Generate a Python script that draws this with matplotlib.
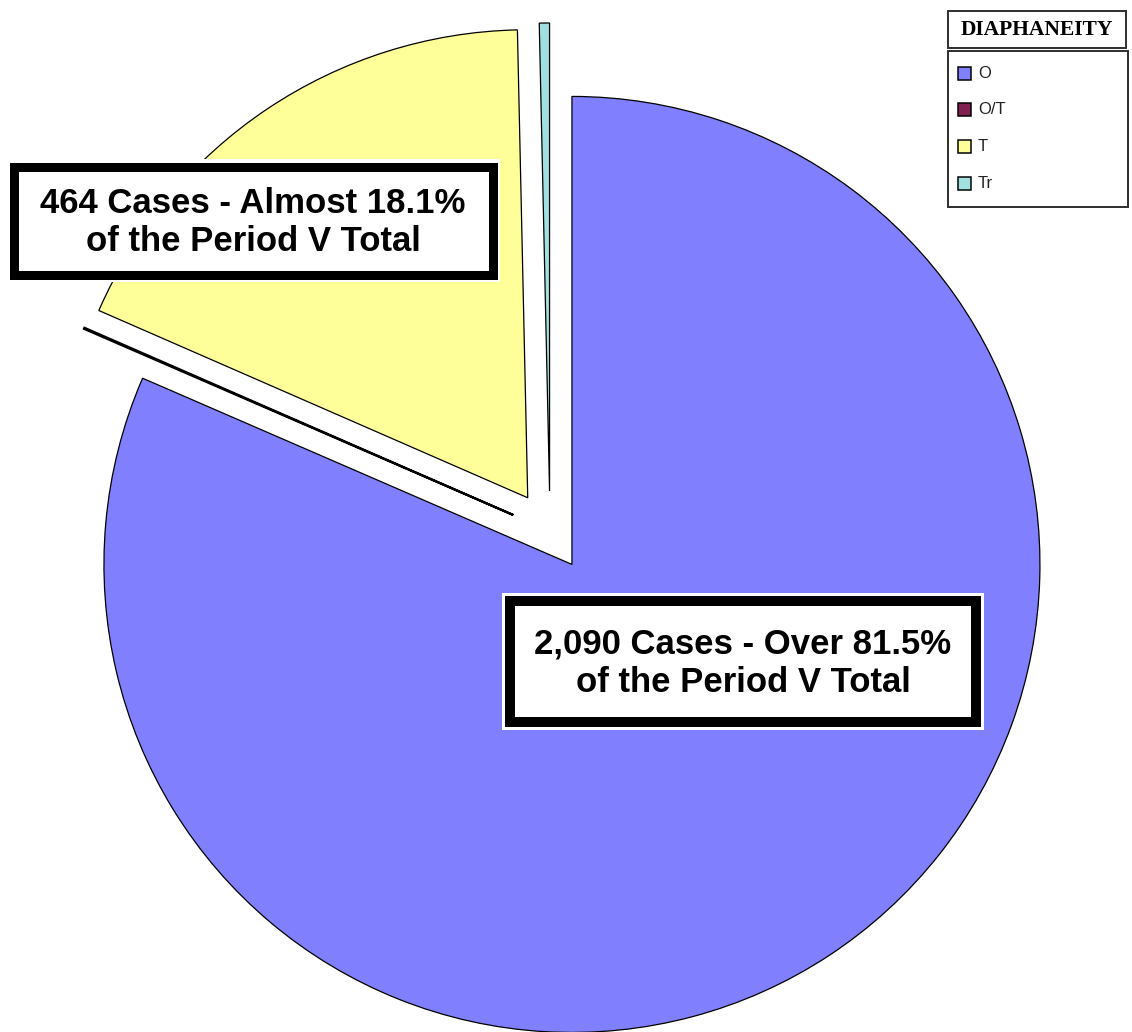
import matplotlib
matplotlib.use("Agg")
import matplotlib.pyplot as plt
from matplotlib.patches import Rectangle

# diaphaneity counts, period V
labels = ["O", "O/T", "T", "Tr"]
cases = [2090, 1, 464, 9]
colors = ["#8080ff", "#802050", "#ffff99", "#a0e0e0"]
legend_title = "DIAPHANEITY"

note_t = "464 Cases - Almost 18.1%\nof the Period V Total"
note_o = "2,090 Cases - Over 81.5%\nof the Period V Total"

W, H = 1132, 1032
fig = plt.figure(figsize=(W / 100, H / 100), dpi=100)
fig.patch.set_facecolor("white")

# pie in pixel-like coordinates (explode is in the same units)
ax = fig.add_axes([0, 0, 1, 1])
wedges, _ = ax.pie(cases, colors=colors, startangle=90, counterclock=False,
                   explode=[40] * len(cases), center=(550, H - 531),
                   radius=468,
                   wedgeprops=dict(edgecolor="black", linewidth=0.9))
# the O/T sliver reads as a heavy dark line
wedges[1].set_linewidth(1.6)
ax.set_xlim(0, W)
ax.set_ylim(0, H)
ax.set_aspect("auto")
ax.axis("off")

# overlay for the boxes and legend, y grows downward
ov = fig.add_axes([0, 0, 1, 1], facecolor="none")
ov.set_xlim(0, W)
ov.set_ylim(H, 0)
ov.axis("off")


def px(p):
    return p * 72 / 100


def note_box(x0, y0, x1, y1, lw, text):
    ov.add_patch(Rectangle((x0, y0), x1 - x0, y1 - y0, facecolor="white",
                           edgecolor="none"))
    ins = 3 + lw / 2
    ov.add_patch(Rectangle((x0 + ins, y0 + ins), x1 - x0 - 2 * ins,
                           y1 - y0 - 2 * ins, facecolor="white",
                           edgecolor="black", linewidth=px(lw)))
    ov.text((x0 + x1) / 2, (y0 + y1) / 2 + 2, text, ha="center", va="center",
            fontsize=25, fontweight="bold", family="Liberation Sans",
            linespacing=1.22)


note_box(6, 159, 500, 282, 9, note_t)
note_box(502, 593, 984, 730, 10, note_o)

# legend: title box and entries box
ov.add_patch(Rectangle((948, 11), 178, 37, facecolor="white",
                       edgecolor="#333333", linewidth=px(2)))
ov.text(1037, 30, legend_title, ha="center", va="center", fontsize=15.5,
        fontweight="bold", family="Liberation Serif")
ov.add_patch(Rectangle((948, 51), 180, 156, facecolor="white",
                       edgecolor="#333333", linewidth=px(2)))
for i, (lab, col) in enumerate(zip(labels, colors)):
    yc = 73 + i * 36.7
    ov.add_patch(Rectangle((958, yc - 6.5), 13, 13, facecolor=col,
                           edgecolor="black", linewidth=px(1.5)))
    ov.text(978, yc, lab, ha="left", va="center", fontsize=12,
            family="Liberation Sans", color="#222222")

fig.savefig("out.png", dpi=100, facecolor="white")
